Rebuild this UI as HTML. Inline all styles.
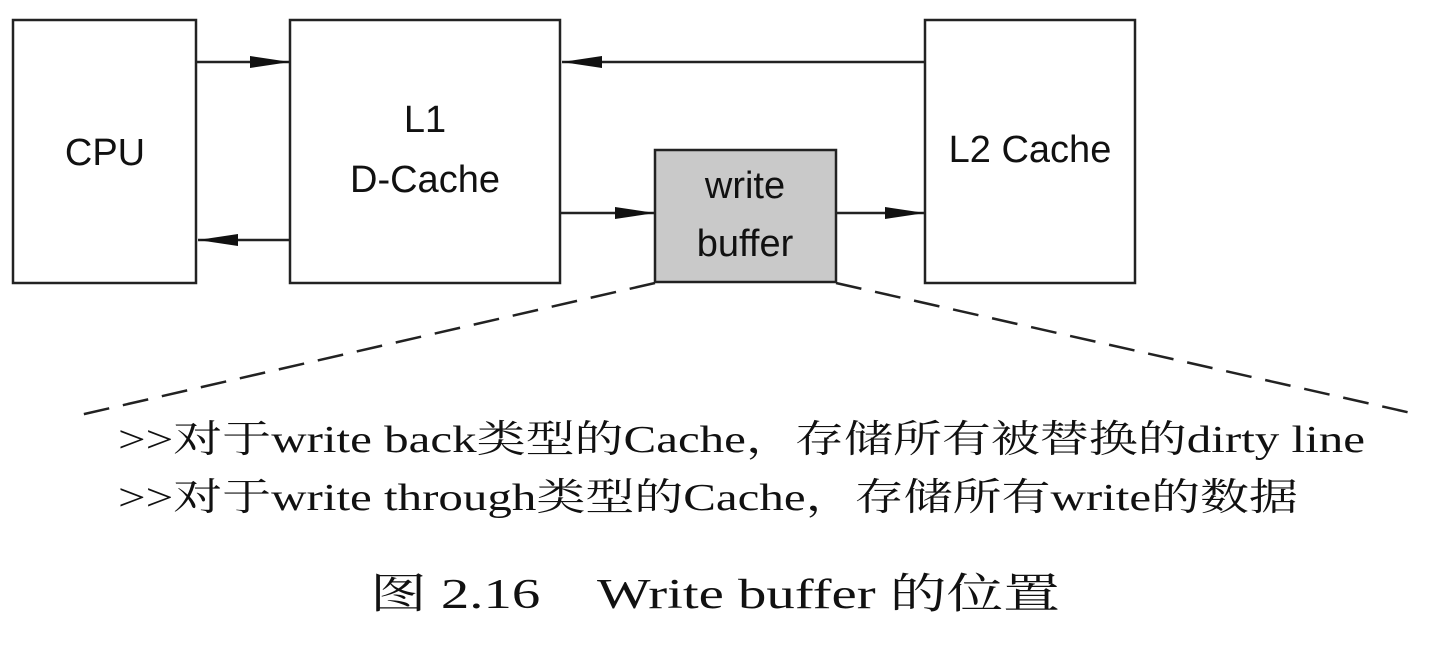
<!DOCTYPE html>
<html><head><meta charset="utf-8"><style>
body{margin:0;background:#fff;width:1444px;height:649px;overflow:hidden}
svg{display:block}
</style></head><body>
<svg width="1444" height="649" viewBox="0 0 1444 649" xmlns="http://www.w3.org/2000/svg">
<defs>
<marker id="b" viewBox="0 0 40 14" markerWidth="40" markerHeight="14" refX="40" refY="7" orient="auto" markerUnits="userSpaceOnUse"><path d="M0,1 L40,7 L0,13 z" fill="#111"/></marker></defs>
<g fill="none" stroke="#222" stroke-width="2.5">
<rect x="13" y="20" width="183" height="263"/>
<rect x="290" y="20" width="270" height="263"/>
<rect x="925" y="20" width="210" height="263"/>
<rect x="655" y="150" width="181" height="132" fill="#c9c9c9"/>
<line x1="196" y1="62" x2="290" y2="62" marker-end="url(#b)"/>
<line x1="290" y1="240" x2="198" y2="240" marker-end="url(#b)"/>
<line x1="925" y1="62" x2="562" y2="62" marker-end="url(#b)"/>
<line x1="560" y1="213" x2="655" y2="213" marker-end="url(#b)"/>
<line x1="836" y1="213" x2="925" y2="213" marker-end="url(#b)"/>
<line x1="655" y1="283" x2="80" y2="415" stroke-dasharray="26,14"/>
<line x1="836" y1="283" x2="1420" y2="415" stroke-dasharray="26,14"/>
</g>
<g font-family="Liberation Sans, sans-serif" font-size="38" fill="#111" text-anchor="middle">
<text x="105" y="165">CPU</text>
<text x="425" y="132">L1</text>
<text x="425" y="192">D-Cache</text>
<text x="1030" y="162">L2 Cache</text>
<text x="745" y="198">write</text>
<text x="745" y="256">buffer</text>
</g>
<g font-family="Liberation Serif, 'Noto Serif CJK SC', serif" font-size="38" fill="#111">
<text x="118" y="452" textLength="1247" lengthAdjust="spacingAndGlyphs">&gt;&gt;对于write back类型的Cache，存储所有被替换的dirty line</text>
<text x="118" y="510" textLength="1180" lengthAdjust="spacingAndGlyphs">&gt;&gt;对于write through类型的Cache，存储所有write的数据</text>
<text x="370" y="608" font-size="42" textLength="690" lengthAdjust="spacingAndGlyphs">图 2.16　Write buffer 的位置</text>
</g>
</svg>
</body></html>
